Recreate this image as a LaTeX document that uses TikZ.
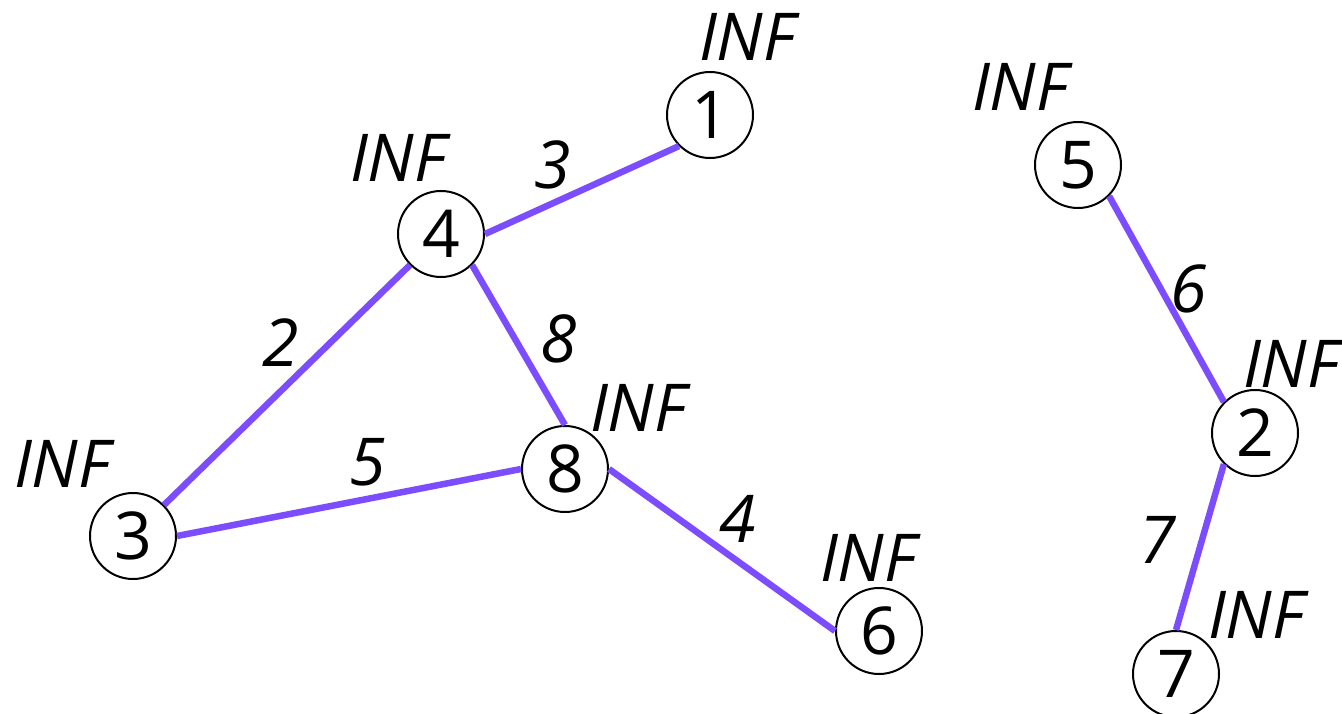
\documentclass[tikz,border=0pt]{standalone}
\usepackage{fontspec}
\setmainfont{Open Sans}
\usepackage{tikz}
\usetikzlibrary{positioning}
\definecolor{edgePurple}{RGB}{124, 77, 255}

\begin{document}
\begin{tikzpicture}[
    x=1pt, y=-1pt,
    vert/.style={circle, draw=black, line width=2pt, fill=white, minimum size=86pt,
                 inner sep=0pt, font=\fontsize{66}{70}\selectfont},
    dist/.style={inner sep=0pt, font=\fontsize{66}{70}\selectfont\itshape},
    wt/.style={inner sep=0pt, font=\fontsize{66}{70}\selectfont\itshape},
    edge/.style={draw=edgePurple, line width=6.5pt},
  ]
    \useasboundingbox (0,0) rectangle (1342,714);

    % vertices
    \node[vert] (V1) at (710,115) {1};
    \node[vert] (V4) at (441,234) {4};
    \node[vert] (V5) at (1078,165) {5};
    \node[vert] (V2) at (1255,433) {2};
    \node[vert] (V8) at (565,469) {8};
    \node[vert] (V3) at (133,536) {3};
    \node[vert] (V6) at (879,631) {6};
    \node[vert] (V7) at (1176,674) {7};

    % distance labels
    \node[dist] (D1) at (747,37) {INF};
    \node[dist] (D4) at (398,158) {INF};
    \node[dist] (D5) at (1020,87) {INF};
    \node[dist] (D2) at (1291,364) {INF};
    \node[dist] (D8) at (638,408) {INF};
    \node[dist] (D3) at (62,464) {INF};
    \node[dist] (D6) at (868,558) {INF};
    \node[dist] (D7) at (1256,615) {INF};

    % edges
    \draw[edge] (V4.east) -- (V1.south west);
    \draw[edge] (V4.south west) -- (V3.north east);
    \draw[edge] (V4.south east) -- (V8.north);
    \draw[edge] (V3.east) -- (V8.west);
    \draw[edge] (V8.east) -- (V6.west);
    \draw[edge] (V5.south east) -- (V2.north west);
    \draw[edge] (V2.south west) -- (V7.north);

    % weights
    \node[wt] (W41) at (553,165) {3};
    \node[wt] (W43) at (281,343) {2};
    \node[wt] (W48) at (559,339) {8};
    \node[wt] (W38) at (368,462) {5};
    \node[wt] (W86) at (738,519) {4};
    \node[wt] (W52) at (1189,289) {6};
    \node[wt] (W27) at (1158,540) {7};
  \end{tikzpicture}
\end{document}
